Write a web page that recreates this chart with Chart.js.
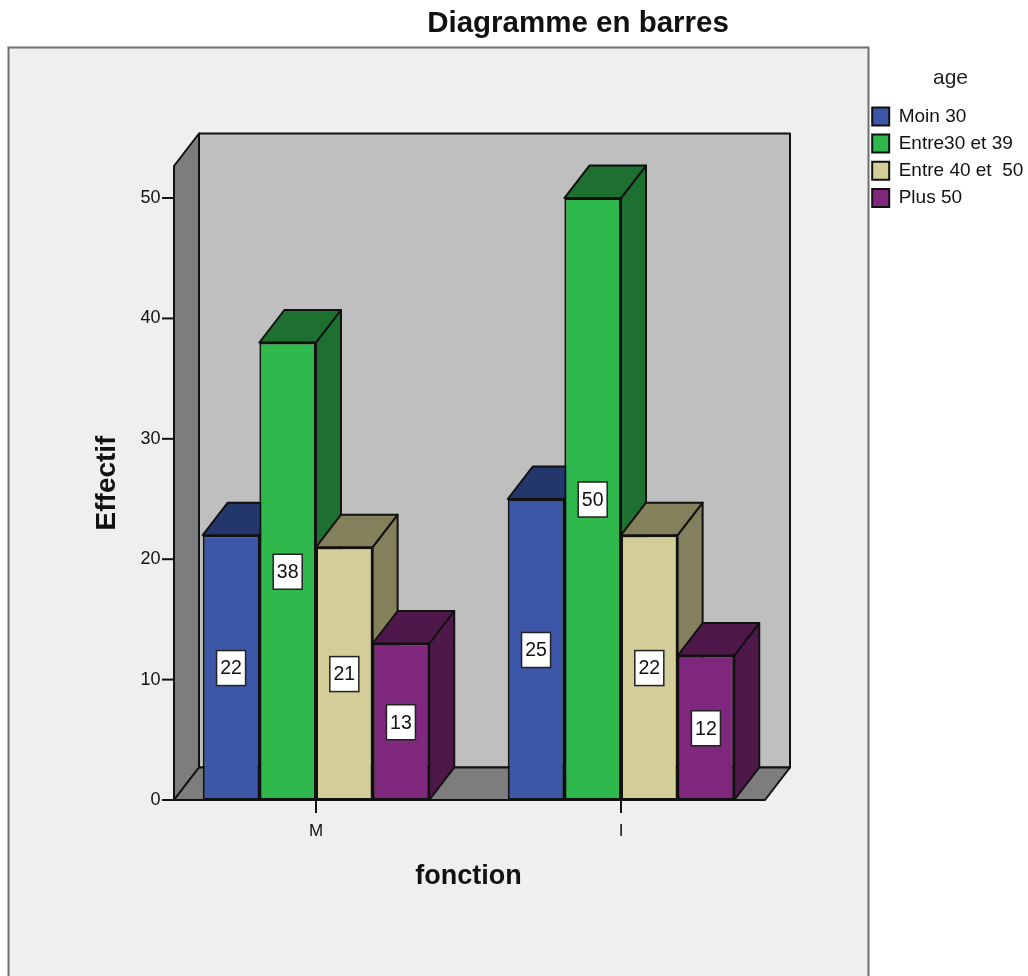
<!DOCTYPE html>
<html lang="fr"><head><meta charset="utf-8">
<style>html,body{margin:0;padding:0;background:#fff;overflow:hidden}canvas{display:block;filter:blur(0.45px)}</style>
<script src="https://cdn.jsdelivr.net/npm/chart.js@4/dist/chart.umd.min.js"></script>
</head><body><canvas id="c" width="1028" height="976"></canvas>
<script>
const chartTitle = 'Diagramme en barres';
const categories = ['M', 'I'];
const legendTitle = 'age';
const seriesNames = ['Moin 30', 'Entre30 et 39', 'Entre 40 et  50', 'Plus 50'];
const moin30 = [22, 25];
const entre30 = [38, 50];
const entre40 = [21, 22];
const plus50 = [13, 12];
const seriesValues = [moin30, entre30, entre40, plus50];
const frontColors = ['#3c56a8', '#2fb84b', '#d3cd97', '#7f277c'];
const topColors = ['#24376c', '#1d7030', '#84805c', '#4e184b'];
const sideColors = ['#24376c', '#1d7030', '#84805c', '#4e184b'];
const FONT = '"Liberation Sans", Arial, sans-serif';
const DX = 25, DY = -32.5;

function poly(ctx, pts, fill, stroke, lw) {
  ctx.beginPath();
  pts.forEach((p, i) => i ? ctx.lineTo(p[0], p[1]) : ctx.moveTo(p[0], p[1]));
  ctx.closePath();
  if (fill) { ctx.fillStyle = fill; ctx.fill(); }
  if (stroke) { ctx.strokeStyle = stroke; ctx.lineWidth = lw; ctx.lineJoin = 'round'; ctx.stroke(); }
}

const scene = {
  id: 'scene',
  beforeLayout(chart) {
    const lg = chart.legend;
    if (!lg._patched) {
      const fit = lg.fit;
      lg.fit = function () { fit.call(this); this.width = 254.5; };
      lg._patched = true;
    }
  },
  afterUpdate(chart) {
    const lg = chart.legend;
    lg.left = 864; lg.right = 1037; lg.width = 173;
    lg.top = 55.5;
    lg.adjustHitBoxes();
    chart.titleBlock.left = 128;
  },
  beforeDraw(chart) {
    const ctx = chart.ctx;
    ctx.save();
    ctx.fillStyle = '#ffffff'; ctx.fillRect(0, 0, 1028, 976);
    ctx.fillStyle = '#efefef'; ctx.fillRect(8.5, 47.5, 860, 940);
    ctx.strokeStyle = '#6e6e6e'; ctx.lineWidth = 2; ctx.strokeRect(8.5, 47.5, 860, 940);
    ctx.restore();
  },
  beforeDatasetsDraw(chart) {
    const ctx = chart.ctx, a = chart.chartArea, y = chart.scales.y;
    const fx0 = a.left + 10.5, fx1 = a.right - 8.5;
    const y0 = y.getPixelForValue(0), yT = y.getPixelForValue(y.max);
    ctx.save();
    poly(ctx, [[fx0 + DX, yT + DY], [fx1 + DX, yT + DY], [fx1 + DX, y0 + DY], [fx0 + DX, y0 + DY]], '#bfbfbf', '#111', 2);
    poly(ctx, [[fx0, yT], [fx0 + DX, yT + DY], [fx0 + DX, y0 + DY], [fx0, y0]], '#7d7d7d', '#111', 2);
    poly(ctx, [[fx0, y0], [fx0 + DX, y0 + DY], [fx1 + DX, y0 + DY], [fx1, y0]], '#7d7d7d', '#111', 2);
    ctx.strokeStyle = '#111'; ctx.lineWidth = 2;
    y.ticks.forEach(t => {
      const py = y.getPixelForValue(t.value);
      ctx.beginPath(); ctx.moveTo(fx0 - 12, py); ctx.lineTo(fx0, py); ctx.stroke();
    });
    chart.data.datasets.forEach((ds, i) => {
      chart.getDatasetMeta(i).data.forEach(b => {
        const l = b.x - b.width / 2, r = b.x + b.width / 2, t = b.y, bt = b.base;
        poly(ctx, [[r, t], [r + DX, t + DY], [r + DX, bt + DY], [r, bt]], sideColors[i], '#111', 2);
        poly(ctx, [[l, t], [l + DX, t + DY], [r + DX, t + DY], [r, t]], topColors[i], '#111', 2);
      });
    });
    ctx.restore();
  },
  afterDatasetsDraw(chart) {
    const ctx = chart.ctx;
    ctx.save();
    ctx.font = '19.5px ' + FONT;
    ctx.textAlign = 'center'; ctx.textBaseline = 'middle';
    chart.data.datasets.forEach((ds, i) => {
      chart.getDatasetMeta(i).data.forEach((b, j) => {
        const cy = (b.y + b.base) / 2 + 0.5;
        ctx.fillStyle = '#fff'; ctx.strokeStyle = '#222'; ctx.lineWidth = 1.5;
        ctx.fillRect(b.x - 14.5, cy - 17.5, 29, 35); ctx.strokeRect(b.x - 14.5, cy - 17.5, 29, 35);
        ctx.fillStyle = '#111';
        ctx.fillText(String(ds.data[j]), b.x, cy + 1);
      });
    });
    const y0 = chart.scales.y.getPixelForValue(0), a = chart.chartArea;
    ctx.strokeStyle = '#111'; ctx.lineWidth = 2;
    ctx.beginPath(); ctx.moveTo(a.left + 10.5, y0); ctx.lineTo(a.right - 8.5, y0); ctx.stroke();
    ctx.restore();
  }
};

new Chart(document.getElementById('c'), {
  type: 'bar',
  data: {
    labels: categories,
    datasets: seriesNames.map((name, i) => ({
      label: name,
      data: seriesValues[i],
      backgroundColor: frontColors[i],
      borderColor: '#111',
      borderWidth: 2,
      borderSkipped: false,
      categoryPercentage: 0.7426,
      barPercentage: 1
    }))
  },
  options: {
    responsive: false,
    animation: false,
    devicePixelRatio: 1,
    layout: { padding: 0 },
    plugins: {
      tooltip: { enabled: false },
      title: {
        display: true, text: chartTitle, color: '#111',
        font: { family: FONT, size: 29.5, weight: 'bold' },
        padding: { top: 6, bottom: 124.6 }
      },
      legend: {
        display: true, position: 'right', align: 'start',
        title: { display: true, text: legendTitle, color: '#222', position: 'center',
                 font: { family: FONT, size: 21 }, padding: { top: 12, bottom: 6 } },
        labels: { boxWidth: 17, boxHeight: 18, padding: 8.2, color: '#111',
                  font: { family: FONT, size: 19 } }
      }
    },
    scales: {
      x: {
        type: 'category', offset: true,
        afterFit(s) { s.height = 176; },
        grid: { display: true, drawOnChartArea: false, offset: false, color: '#111', lineWidth: 2, tickLength: 13, tickColor: '#111' },
        border: { display: false },
        ticks: { color: '#111', font: { family: FONT, size: 17 }, padding: 8.5, maxRotation: 0 },
        title: { display: true, text: 'fonction', color: '#111', font: { family: FONT, size: 27, weight: 'bold' }, padding: { top: 12, bottom: 82.8 } }
      },
      y: {
        min: 0, max: 52.66,
        afterFit(s) { s.width = 163.5; },
        grid: { display: false, drawTicks: false },
        border: { display: false },
        ticks: { stepSize: 10, includeBounds: false, color: '#111', font: { family: FONT, size: 18 }, padding: 3 },
        title: { display: true, text: 'Effectif', color: '#111', font: { family: FONT, size: 28, weight: 'bold' }, padding: { top: 90, bottom: 0 } }
      }
    }
  },
  plugins: [scene]
});
</script></body></html>
